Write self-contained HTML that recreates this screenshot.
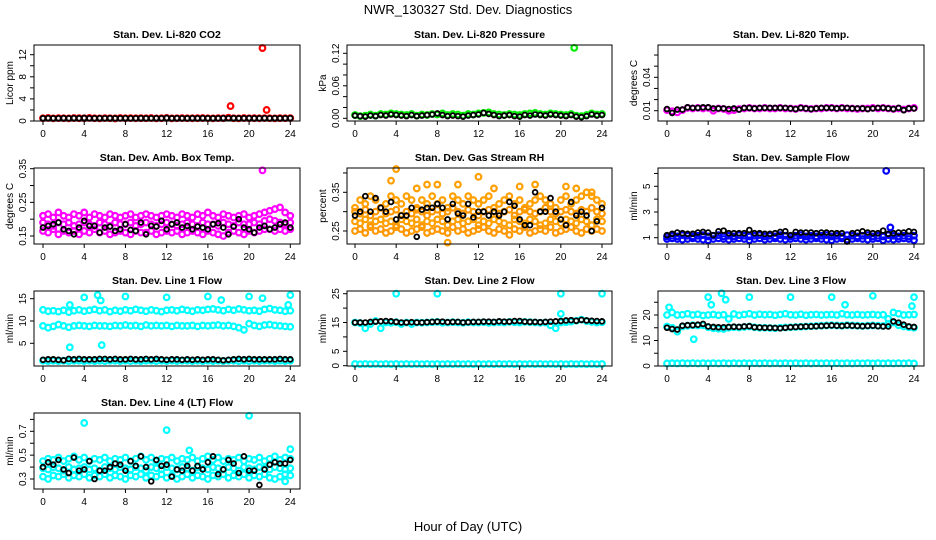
<!DOCTYPE html>
<html><head><meta charset="utf-8"><style>
body{margin:0;background:#fff;}
svg{display:block;font-family:"Liberation Sans",Arial,sans-serif;}
</style></head><body>
<svg id="c" width="936" height="540" viewBox="0 0 936 540">
<text x="468" y="14" text-anchor="middle" font-size="13">NWR_130327  Std. Dev. Diagnostics</text>
<text x="468" y="531" text-anchor="middle" font-size="13">Hour of Day (UTC)</text>
</svg>
<script>
const H=[0,0.5,1,1.5,2,2.5,3,3.5,4,4.5,5,5.5,6,6.5,7,7.5,8,8.5,9,9.5,10,10.5,11,11.5,12,12.5,13,13.5,14,14.5,15,15.5,16,16.5,17,17.5,18,18.5,19,19.5,20,20.5,21,21.5,22,22.5,23,23.5,24];
const xTicks=[0,4,8,12,16,20,24];
const co2Red=[0.50,0.55,0.48,0.52,0.50,0.47,0.53,0.51,0.49,0.55,0.50,0.48,0.52,0.50,0.46,0.54,0.50,0.52,0.49,0.51,0.50,0.53,0.48,0.50,0.55,0.47,0.50,0.52,0.50,0.49,0.51,0.53,0.50,0.48,0.52,0.50,0.60,0.50,0.47,0.53,0.50,0.51,0.49,0.52,0.50,0.48,0.51,0.50,0.52];
const co2Black=[0.50,0.52,0.50,0.49,0.51,0.50,0.52,0.50,0.55,0.50,0.49,0.51,0.50,0.52,0.50,0.50,0.51,0.49,0.50,0.52,0.50,0.50,0.51,0.50,0.55,0.50,0.52,0.49,0.50,0.51,0.50,0.52,0.50,0.49,0.50,0.51,0.50,0.52,0.50,0.50,0.51,0.49,0.50,0.52,0.50,0.51,0.50,0.50,0.52];
const co2OutX=[18.2,21.3,21.7];const co2OutY=[2.7,13.2,2.0];
const presGreen=[0.006,0.004,0.005,0.007,0.005,0.008,0.007,0.009,0.008,0.007,0.006,0.008,0.005,0.007,0.006,0.008,0.007,0.009,0.006,0.008,0.007,0.005,0.008,0.007,0.009,0.010,0.011,0.008,0.007,0.006,0.008,0.007,0.006,0.008,0.009,0.010,0.008,0.007,0.009,0.008,0.007,0.006,0.008,0.005,0.004,0.006,0.009,0.007,0.008];
const presBlack=[0.005,0.004,0.003,0.005,0.004,0.006,0.005,0.007,0.006,0.005,0.004,0.006,0.004,0.005,0.006,0.007,0.009,0.006,0.004,0.005,0.004,0.003,0.005,0.006,0.007,0.010,0.008,0.006,0.004,0.005,0.006,0.004,0.003,0.006,0.005,0.007,0.006,0.005,0.007,0.006,0.005,0.004,0.006,0.003,0.002,0.004,0.007,0.005,0.006];
const presOutX=[21.3];const presOutY=[0.130];
const tempMag=[0.0105,0.0095,0.0085,0.0105,0.0125,0.0120,0.0125,0.0120,0.0125,0.0100,0.0120,0.0115,0.0100,0.0105,0.0115,0.0120,0.0125,0.0120,0.0120,0.0125,0.0120,0.0120,0.0125,0.0120,0.0120,0.0115,0.0125,0.0120,0.0115,0.0120,0.0120,0.0125,0.0125,0.0120,0.0125,0.0120,0.0120,0.0115,0.0120,0.0120,0.0125,0.0120,0.0125,0.0120,0.0115,0.0120,0.0110,0.0120,0.0125];
const tempBlack=[0.0115,0.0080,0.0110,0.0110,0.0130,0.0125,0.0125,0.0130,0.0130,0.0120,0.0120,0.0120,0.0115,0.0120,0.0110,0.0125,0.0125,0.0120,0.0125,0.0125,0.0125,0.0125,0.0125,0.0125,0.0120,0.0115,0.0125,0.0120,0.0115,0.0120,0.0125,0.0125,0.0125,0.0120,0.0125,0.0125,0.0120,0.0120,0.0120,0.0115,0.0120,0.0125,0.0125,0.0120,0.0115,0.0125,0.0105,0.0120,0.0120];
const tempOutX=[21.3];const tempOutY=[0.0715];
const ambHi=[0.210,0.215,0.205,0.220,0.210,0.205,0.215,0.210,0.220,0.205,0.215,0.210,0.205,0.215,0.210,0.205,0.210,0.215,0.205,0.210,0.215,0.210,0.205,0.210,0.215,0.210,0.205,0.215,0.210,0.205,0.215,0.210,0.220,0.210,0.205,0.215,0.210,0.205,0.210,0.215,0.205,0.210,0.215,0.220,0.225,0.230,0.235,0.220,0.210];
const ambMid=[0.190,0.185,0.180,0.190,0.185,0.190,0.180,0.185,0.190,0.185,0.180,0.190,0.185,0.180,0.190,0.185,0.185,0.190,0.180,0.185,0.190,0.185,0.180,0.185,0.190,0.185,0.180,0.185,0.190,0.185,0.180,0.190,0.185,0.185,0.180,0.190,0.185,0.180,0.190,0.185,0.185,0.190,0.185,0.195,0.200,0.195,0.190,0.185,0.190];
const ambLo=[0.165,0.160,0.170,0.155,0.165,0.160,0.165,0.155,0.165,0.160,0.170,0.160,0.165,0.155,0.160,0.165,0.160,0.155,0.165,0.160,0.160,0.165,0.155,0.160,0.165,0.160,0.165,0.155,0.160,0.165,0.160,0.155,0.165,0.160,0.155,0.150,0.160,0.165,0.160,0.155,0.165,0.160,0.165,0.170,0.170,0.165,0.170,0.165,0.170];
const ambBlack=[0.175,0.180,0.185,0.190,0.170,0.165,0.155,0.175,0.195,0.180,0.180,0.160,0.175,0.178,0.165,0.170,0.185,0.168,0.165,0.190,0.155,0.180,0.178,0.195,0.170,0.185,0.190,0.175,0.180,0.170,0.178,0.175,0.170,0.185,0.188,0.175,0.155,0.178,0.200,0.175,0.170,0.160,0.175,0.180,0.170,0.175,0.185,0.190,0.175];
const ambOutX=[21.3];const ambOutY=[0.345];
const rh1=[0.310,0.330,0.320,0.340,0.330,0.310,0.320,0.340,0.330,0.320,0.340,0.330,0.310,0.330,0.320,0.340,0.320,0.330,0.310,0.340,0.330,0.320,0.340,0.330,0.320,0.330,0.340,0.310,0.320,0.330,0.340,0.320,0.330,0.310,0.320,0.330,0.340,0.330,0.320,0.310,0.330,0.340,0.320,0.330,0.340,0.350,0.340,0.330,0.320];
const rh2=[0.300,0.295,0.305,0.290,0.300,0.310,0.295,0.300,0.305,0.290,0.300,0.295,0.305,0.300,0.290,0.300,0.305,0.295,0.300,0.310,0.300,0.295,0.305,0.300,0.290,0.300,0.305,0.300,0.295,0.300,0.305,0.290,0.300,0.305,0.300,0.295,0.300,0.310,0.300,0.295,0.300,0.305,0.300,0.295,0.305,0.300,0.310,0.300,0.295];
const rh3=[0.275,0.270,0.280,0.265,0.275,0.280,0.270,0.275,0.265,0.280,0.275,0.270,0.280,0.265,0.275,0.270,0.280,0.275,0.265,0.275,0.280,0.270,0.275,0.280,0.265,0.275,0.270,0.280,0.275,0.270,0.265,0.280,0.275,0.270,0.280,0.275,0.265,0.270,0.280,0.275,0.270,0.280,0.275,0.270,0.280,0.275,0.265,0.280,0.275];
const rh4=[0.250,0.255,0.245,0.260,0.250,0.255,0.245,0.250,0.260,0.255,0.245,0.250,0.255,0.260,0.245,0.250,0.255,0.250,0.245,0.260,0.250,0.255,0.245,0.250,0.255,0.260,0.250,0.245,0.255,0.250,0.240,0.255,0.250,0.260,0.245,0.250,0.255,0.250,0.260,0.245,0.250,0.255,0.260,0.250,0.245,0.255,0.250,0.255,0.250];
const rhBlack=[0.290,0.300,0.340,0.300,0.335,0.310,0.300,0.325,0.280,0.290,0.290,0.310,0.235,0.305,0.310,0.310,0.320,0.310,0.280,0.320,0.295,0.290,0.320,0.285,0.300,0.300,0.290,0.300,0.290,0.300,0.325,0.315,0.280,0.265,0.265,0.350,0.300,0.300,0.335,0.300,0.280,0.265,0.325,0.290,0.300,0.290,0.250,0.275,0.310];
const rhOutX=[4,3.5,6,7,8,10,12,13.5,16,17.5,9,20.5,21.5,23];const rhOutY=[0.41,0.38,0.36,0.37,0.37,0.37,0.39,0.36,0.365,0.37,0.22,0.365,0.36,0.35];
const sfBlue1=[1.10,1.15,1.10,1.20,1.15,1.10,1.15,1.20,1.10,1.15,1.20,1.10,1.15,1.10,1.20,1.15,1.10,1.15,1.20,1.10,1.15,1.10,1.20,1.15,1.10,1.15,1.20,1.10,1.15,1.10,1.15,1.20,1.10,1.15,1.10,1.20,1.15,1.10,1.15,1.20,1.10,1.15,1.10,1.20,1.15,1.10,1.15,1.10,1.15];
const sfBlue2=[0.90,0.95,0.90,0.85,0.90,0.95,0.90,0.85,0.80,0.90,0.95,0.90,0.85,0.90,0.95,0.90,0.80,0.90,0.95,0.85,0.90,0.95,0.90,0.85,0.90,0.95,0.90,0.85,0.90,0.95,0.90,0.85,0.80,0.90,0.95,0.85,0.90,0.95,0.90,0.85,0.90,0.95,0.80,0.90,0.85,0.90,0.95,0.90,0.80];
const sfBlack=[1.20,1.30,1.40,1.35,1.30,1.30,1.40,1.45,1.40,1.20,1.50,1.55,1.35,1.35,1.35,1.35,1.60,1.35,1.35,1.30,1.30,1.35,1.45,1.50,1.20,1.45,1.40,1.40,1.40,1.35,1.40,1.40,1.35,1.35,1.35,0.70,1.35,1.40,1.50,1.40,1.35,1.35,1.55,1.30,1.35,1.40,1.40,1.50,1.45];
const sfOutX=[21.3,21.7];const sfOutY=[6.2,1.8];
const l1Hi=[12.5,12.2,12.3,12.1,12.4,12.0,12.3,12.5,12.2,12.4,12.6,12.3,12.5,12.1,12.4,12.2,12.5,12.3,12.6,12.4,12.2,12.5,12.3,12.1,12.4,12.5,12.3,12.6,12.4,12.2,12.5,12.4,12.6,12.7,12.5,12.3,12.6,12.4,12.7,12.5,12.3,12.4,12.2,12.6,12.8,12.5,12.4,12.2,12.3];
const l1Mid=[8.9,8.5,8.8,9.2,8.9,8.6,8.9,9.0,8.9,8.8,9.0,8.9,8.9,8.8,9.0,8.9,9.1,8.9,9.0,8.8,9.1,8.9,9.0,8.9,9.0,8.8,9.0,8.9,8.9,9.0,8.8,9.0,8.9,9.0,9.1,8.9,9.0,8.8,8.5,8.0,9.4,9.0,8.8,9.1,9.2,9.0,8.9,8.8,8.7];
const l1Lo=[1.1,1.0,1.1,1.0,1.1,1.0,1.1,1.1,1.0,1.1,1.0,1.1,1.0,1.1,1.1,1.0,1.1,1.0,1.1,1.0,1.1,1.1,1.0,1.1,1.0,1.1,1.0,1.1,1.1,1.0,1.1,1.0,1.1,1.0,1.1,1.0,1.1,1.1,1.0,1.1,1.0,1.1,1.0,1.1,1.1,1.0,1.1,1.0,1.1];
const l1Black=[1.3,1.4,1.4,1.3,1.2,1.5,1.4,1.5,1.4,1.4,1.4,1.5,1.5,1.4,1.5,1.4,1.4,1.5,1.4,1.4,1.5,1.4,1.5,1.4,1.3,1.4,1.4,1.3,1.4,1.3,1.4,1.3,1.4,1.4,1.3,1.2,1.3,1.4,1.5,1.4,1.5,1.4,1.4,1.4,1.4,1.4,1.5,1.4,1.4];
const l1OutX=[4,5.3,8,12,16,17.3,20,21.3,24,2.6,5.6,23.8,5.7,2.6];const l1OutY=[15.3,15.8,15.5,15.3,15.5,14.7,15.5,15.1,15.8,13.6,14.6,13.6,4.6,4.1];
const l2Hi=[15.0,14.8,13.0,14.5,15.5,13.0,15.0,14.9,15.1,14.5,15.0,14.5,15.0,14.9,15.0,15.1,15.2,14.9,15.0,15.1,15.0,14.9,15.1,15.0,15.0,15.1,14.9,15.0,15.1,15.0,15.2,15.1,15.0,15.2,15.1,15.0,14.9,15.0,14.0,13.0,15.0,15.1,15.3,15.6,16.0,15.5,15.2,15.0,15.1];
const l2Lo=[0.6,0.5,0.6,0.5,0.6,0.5,0.6,0.5,0.6,0.5,0.6,0.5,0.6,0.5,0.6,0.5,0.6,0.5,0.6,0.5,0.6,0.5,0.6,0.5,0.6,0.5,0.6,0.5,0.6,0.5,0.6,0.5,0.6,0.5,0.6,0.5,0.6,0.5,0.6,0.5,0.6,0.5,0.6,0.5,0.6,0.5,0.6,0.5,0.6];
const l2Black=[15.0,15.0,15.0,15.2,15.3,15.4,15.5,15.4,15.2,15.0,15.0,15.1,15.0,15.0,15.1,15.2,15.3,15.3,15.1,15.2,15.2,15.0,15.1,15.2,15.2,15.3,15.3,15.2,15.4,15.3,15.3,15.5,15.5,15.3,15.2,15.2,15.1,15.2,15.3,15.4,15.5,15.7,15.8,15.6,15.9,15.7,15.6,15.5,15.4];
const l2OutX=[4,8,20,24,20];const l2OutY=[25,25,25,25,18];
const l3Hi=[20.0,21.0,20.0,20.1,20.5,20.0,20.3,19.8,20.0,20.2,19.9,20.1,18.5,20.4,19.9,20.2,20.5,20.0,20.3,20.1,20.2,19.9,20.2,20.5,20.1,20.0,20.3,19.9,20.1,20.2,20.0,20.1,20.2,20.0,20.5,20.1,20.0,20.2,20.0,20.1,20.2,20.0,20.1,18.5,21.0,20.5,20.0,20.1,20.2];
const l3Mid=[15.5,15.0,13.5,15.5,15.8,16.0,15.9,16.0,15.2,14.8,14.6,14.5,15.0,15.2,15.1,15.3,15.5,15.2,15.0,15.0,14.9,14.8,15.0,15.1,15.2,15.3,15.4,15.5,15.6,15.7,15.8,15.9,16.0,15.9,15.8,16.0,15.9,15.8,15.7,15.8,15.9,15.8,15.7,16.5,17.0,16.0,15.5,15.2,15.0];
const l3Lo=[1.0,1.1,1.0,1.1,1.0,1.1,1.0,1.1,1.0,1.1,1.0,1.1,1.0,1.1,1.0,1.1,1.0,1.1,1.0,1.1,1.0,1.1,1.0,1.1,1.0,1.1,1.0,1.1,1.0,1.1,1.0,1.1,1.0,1.1,1.0,1.1,1.0,1.1,1.0,1.1,1.0,1.1,1.0,1.1,1.0,1.1,1.0,1.1,1.0];
const l3Black=[15.0,14.5,14.3,15.8,16.0,16.0,16.2,16.5,15.5,15.3,15.2,15.2,15.3,15.4,15.3,15.5,15.6,15.2,15.1,15.0,15.0,14.9,14.8,15.0,15.2,15.3,15.4,15.5,15.5,15.6,15.7,15.8,15.9,15.8,15.7,15.9,15.8,15.7,15.6,15.7,15.8,15.6,15.5,15.5,17.5,17.0,16.2,15.5,15.3];
const l3OutX=[0.2,4,4.3,5.3,5.7,8,12,16,17.3,20,24,23.8,2.6];const l3OutY=[23,27,24,28.5,26,27,27,27,24,27.5,27,23.5,10.5];
const l4Hi=[0.45,0.47,0.46,0.48,0.45,0.47,0.49,0.46,0.48,0.45,0.47,0.46,0.48,0.45,0.47,0.46,0.48,0.45,0.47,0.49,0.46,0.48,0.45,0.47,0.46,0.48,0.45,0.47,0.46,0.48,0.45,0.47,0.49,0.46,0.48,0.45,0.47,0.46,0.48,0.45,0.47,0.46,0.48,0.45,0.47,0.49,0.46,0.48,0.47];
const l4Mid=[0.39,0.38,0.40,0.39,0.37,0.40,0.38,0.39,0.40,0.38,0.39,0.37,0.40,0.39,0.38,0.40,0.39,0.38,0.40,0.39,0.37,0.40,0.39,0.38,0.40,0.39,0.38,0.40,0.39,0.37,0.40,0.39,0.38,0.40,0.39,0.38,0.40,0.39,0.37,0.40,0.39,0.38,0.40,0.39,0.38,0.40,0.39,0.38,0.39];
const l4Lo=[0.32,0.30,0.33,0.32,0.34,0.31,0.33,0.32,0.34,0.31,0.33,0.32,0.34,0.31,0.33,0.32,0.30,0.33,0.32,0.34,0.31,0.33,0.32,0.34,0.31,0.33,0.30,0.32,0.34,0.31,0.33,0.32,0.30,0.33,0.32,0.34,0.31,0.33,0.32,0.34,0.31,0.33,0.32,0.34,0.31,0.30,0.32,0.34,0.33];
const l4Black=[0.40,0.44,0.42,0.46,0.38,0.35,0.48,0.37,0.38,0.45,0.30,0.37,0.37,0.40,0.43,0.42,0.37,0.45,0.41,0.49,0.40,0.28,0.46,0.41,0.42,0.32,0.38,0.37,0.41,0.37,0.41,0.38,0.44,0.49,0.34,0.38,0.46,0.43,0.35,0.49,0.37,0.37,0.25,0.38,0.42,0.44,0.43,0.43,0.46];
const l4OutX=[4,12,20,24,14.2,23.5];const l4OutY=[0.77,0.71,0.83,0.55,0.54,0.28];

const NS='http://www.w3.org/2000/svg';
const svg=document.getElementById('c');
function el(t,a,p){const e=document.createElementNS(NS,t);for(const k in a)e.setAttribute(k,a[k]);(p||svg).appendChild(e);return e;}
const cols=[{l:34,r:300,x0:43,x24:290.3},{l:347,r:612,x0:355,x24:602},{l:658,r:924,x0:667,x24:914}];
const rows=[{t:45,b:121},{t:168,b:244},{t:291,b:366},{t:413,b:489}];
const panels=[
 {title:'Stan. Dev. Li-820 CO2',ylab:'Licor ppm',c:0,r:0,v0:0,p0:121,v1:12,p1:54.7,ticks:[0,2,4,6,8,10,12],labels:[0,4,8,12],fmt:0,
  series:[[H,co2Red,'#ff0000'],[H,co2Black,'#000000'],[co2OutX,co2OutY,'#ff0000']]},
 {title:'Stan. Dev. Li-820 Pressure',ylab:'kPa',c:1,r:0,v0:0,p0:118.3,v1:0.12,p1:53.3,ticks:[0,0.02,0.04,0.06,0.08,0.1,0.12],labels:[0,0.06,0.12],fmt:2,
  series:[[H,presGreen,'#00ee00'],[H,presBlack,'#000000'],[presOutX,presOutY,'#00ee00']]},
 {title:'Stan. Dev. Li-820 Temp.',ylab:'degrees C',c:2,r:0,v0:0.01,p0:110.7,v1:0.04,p1:77.3,ticks:[0.01,0.02,0.03,0.04,0.05,0.06],labels:[0.01,0.04],fmt:2,
  series:[[H,tempMag,'#ff00ff'],[H,tempBlack,'#000000'],[tempOutX,tempOutY,'#ff00ff']]},
 {title:'Stan. Dev. Amb. Box Temp.',ylab:'degrees C',c:0,r:1,v0:0.15,p0:236,v1:0.35,p1:168.7,ticks:[0.15,0.2,0.25,0.3,0.35],labels:[0.15,0.25,0.35],fmt:2,
  series:[[H,ambHi,'#ff00ff'],[H,ambMid,'#ff00ff'],[H,ambLo,'#ff00ff'],[ambOutX,ambOutY,'#ff00ff'],[H,ambBlack,'#000000']]},
 {title:'Stan. Dev. Gas Stream RH',ylab:'percent',c:1,r:1,v0:0.25,p0:231,v1:0.35,p1:192.3,ticks:[0.25,0.3,0.35,0.4],labels:[0.25,0.35],fmt:2,
  series:[[H,rh1,'#ffa000'],[H,rh2,'#ff9800'],[H,rh3,'#ffa000'],[H,rh4,'#ff9800'],[rhOutX,rhOutY,'#ffa000'],[H,rhBlack,'#000000']]},
 {title:'Stan. Dev. Sample Flow',ylab:'ml/min',c:2,r:1,v0:1,p0:237.7,v1:5,p1:186.3,ticks:[1,2,3,4,5,6],labels:[1,3,5],fmt:0,
  series:[[H,sfBlue1,'#0000ff'],[H,sfBlue2,'#0000ff'],[H,sfBlack,'#000000'],[sfOutX,sfOutY,'#0000ff']]},
 {title:'Stan. Dev. Line 1 Flow',ylab:'ml/min',c:0,r:2,v0:5,p0:343.3,v1:15,p1:298.7,ticks:[5,10,15],labels:[5,10,15],fmt:0,
  series:[[H,l1Hi,'#00ffff'],[H,l1Mid,'#00ffff'],[H,l1Lo,'#00ffff'],[l1OutX,l1OutY,'#00ffff'],[H,l1Black,'#000000']]},
 {title:'Stan. Dev. Line 2 Flow',ylab:'ml/min',c:1,r:2,v0:0,p0:365.7,v1:25,p1:293.7,ticks:[0,5,10,15,20,25],labels:[0,5,15,25],fmt:0,
  series:[[H,l2Hi,'#00ffff'],[H,l2Lo,'#00ffff'],[l2OutX,l2OutY,'#00ffff'],[H,l2Black,'#000000']]},
 {title:'Stan. Dev. Line 3 Flow',ylab:'ml/min',c:2,r:2,v0:0,p0:366,v1:20,p1:315,ticks:[0,5,10,15,20,25],labels:[0,10,20],fmt:0,
  series:[[H,l3Hi,'#00ffff'],[H,l3Mid,'#00ffff'],[H,l3Lo,'#00ffff'],[l3OutX,l3OutY,'#00ffff'],[H,l3Black,'#000000']]},
 {title:'Stan. Dev. Line 4 (LT) Flow',ylab:'ml/min',c:0,r:3,v0:0.3,p0:479,v1:0.7,p1:431.3,ticks:[0.3,0.4,0.5,0.6,0.7,0.8],labels:[0.3,0.5,0.7],fmt:1,
  series:[[H,l4Hi,'#00ffff'],[H,l4Mid,'#00ffff'],[H,l4Lo,'#00ffff'],[l4OutX,l4OutY,'#00ffff'],[H,l4Black,'#000000']]}
];
panels.forEach((p,i)=>{
  const C=cols[p.c],R=rows[p.r];
  const g=el('g',{});
  
  
  const xs=h=>C.x0+(C.x24-C.x0)*h/24;
  const ys=v=>p.p0+(p.p1-p.p0)*(v-p.v0)/(p.v1-p.v0);
  const t=el('text',{x:(C.l+C.r)/2,y:R.t-7,'text-anchor':'middle','font-size':'10.5','font-weight':'bold'},g);
  t.textContent=p.title;
  
  
  const pts=el('g',{fill:'none'},g);
  
  
  p.series.forEach(s=>{
    const X=s[0],Y=s[1];
    const big=s[2]!=='#000000';
    for(let k=0;k<Y.length;k++){
      const cy=ys(Y[k]);
      if(cy<R.t-2||cy>R.b+2)continue;
      const c=el('circle',{cx:xs(X[k]),cy:cy,r:big?2.8:2.4,stroke:s[2],'stroke-width':big?2.2:1.8},pts);
      
      
    }
  });
  const box=el('rect',{x:C.l,y:R.t,width:C.r-C.l,height:R.b-R.t,fill:'none',stroke:'#000','stroke-width':1},g);
  
  
  const xa=el('g',{stroke:'#000','stroke-width':1},g);
  
  
  el('line',{x1:xs(0),x2:xs(24),y1:R.b,y2:R.b},xa);
  xTicks.forEach(v=>{
    el('line',{x1:xs(v),x2:xs(v),y1:R.b,y2:R.b+4},xa);
    const tl=el('text',{x:xs(v),y:R.b+16,'text-anchor':'middle','font-size':'10',stroke:'none',fill:'#000'},g);
    tl.textContent=v;
    
    
  });
  const ya=el('g',{stroke:'#000','stroke-width':1},g);
  
  
  el('line',{x1:C.l,x2:C.l,y1:ys(p.ticks[0]),y2:ys(p.ticks[p.ticks.length-1])},ya);
  p.ticks.forEach(v=>{el('line',{x1:C.l-4,x2:C.l,y1:ys(v),y2:ys(v)},ya);});
  p.labels.forEach(v=>{
    const yy=ys(v),xx=C.l-8;
    const tl=el('text',{x:xx,y:yy,'text-anchor':'middle','font-size':'10',transform:`rotate(-90 ${xx} ${yy})`},g);
    tl.textContent=v.toFixed(p.fmt);
    
    
  });
  const yl=(R.t+R.b)/2,xl=C.l-21;
  const ylab=el('text',{x:xl,y:yl,'text-anchor':'middle','font-size':'10',transform:`rotate(-90 ${xl} ${yl})`},g);
  ylab.textContent=p.ylab;
  
  
});
</script>
</body></html>
